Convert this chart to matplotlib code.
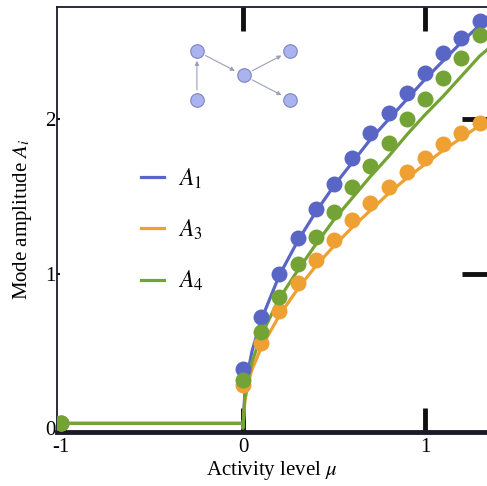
import matplotlib
matplotlib.use("Agg")
import matplotlib.pyplot as plt
from matplotlib.patches import FancyArrowPatch

plt.rcParams['font.family'] = ['Liberation Serif', 'DejaVu Serif']
plt.rcParams['mathtext.fontset'] = 'stix'

# simulation points (dots)
mu_dots = [-1.0, 0.0, 0.1, 0.2, 0.3, 0.4, 0.5, 0.6, 0.7, 0.8, 0.9, 1.0, 1.1, 1.2, 1.3]
a1_dots = [0.03, 0.38, 0.72, 1.00, 1.23, 1.42, 1.58, 1.75, 1.91, 2.04, 2.17, 2.30, 2.43, 2.53, 2.64]
a3_dots = [0.03, 0.28, 0.55, 0.76, 0.94, 1.09, 1.22, 1.35, 1.46, 1.56, 1.66, 1.75, 1.84, 1.91, 1.98]
a4_dots = [0.03, 0.31, 0.62, 0.85, 1.06, 1.24, 1.40, 1.56, 1.70, 1.85, 2.00, 2.13, 2.27, 2.40, 2.55]

# theory curves
mu_line = [-1.0, -0.001, 0.0, 0.01, 0.03, 0.05, 0.1, 0.2, 0.3, 0.4, 0.5, 0.6, 0.7,
           0.8, 0.9, 1.0, 1.1, 1.2, 1.3, 1.34]
a1_line = [0.03, 0.03, 0.0, 0.22, 0.38, 0.50, 0.70, 0.99, 1.21, 1.40, 1.57, 1.72, 1.87,
           2.00, 2.13, 2.26, 2.38, 2.50, 2.61, 2.66]
a3_line = [0.03, 0.03, 0.0, 0.17, 0.30, 0.38, 0.52, 0.73, 0.90, 1.05, 1.18, 1.30, 1.41,
           1.52, 1.62, 1.71, 1.80, 1.88, 1.96, 1.98]
a4_line = [0.03, 0.03, 0.0, 0.19, 0.33, 0.43, 0.60, 0.84, 1.02, 1.19, 1.35, 1.49, 1.63,
           1.76, 1.90, 2.03, 2.15, 2.28, 2.41, 2.45]

blue = '#5a66c6'
orange = '#eea033'
green = '#74a335'

fig = plt.figure(figsize=(4.87, 4.86), dpi=100)
ax = fig.add_axes([0.117, 0.111, 0.883, 0.875])

for dots, line, c, lab in [(a1_dots, a1_line, blue, '$A_{\\mathit{1}}$'),
                           (a3_dots, a3_line, orange, '$A_{\\mathit{3}}$'),
                           (a4_dots, a4_line, green, '$A_{\\mathit{4}}$')]:
    ax.plot(mu_line, line, color=c, lw=2.3, label=lab, zorder=3)
    ax.plot(mu_dots, dots, 'o', color=c, ms=11.5, mec='none', zorder=4)

ax.set_xlim(-1.022, 1.341)
ax.set_ylim(-0.026, 2.73)
ax.set_xticks([-1, 0, 1])
ax.set_yticks([0, 1, 2])
ax.set_xticklabels(['-1', '0', '1'])
ax.tick_params(axis='both', labelsize=15, color='#111111')
ax.tick_params(axis='x', direction='in', top=True, length=17, width=3.5, pad=4)
ax.tick_params(axis='y', direction='in', right=True, length=2, width=1.5, pad=1)
yt = ax.yaxis.get_major_ticks()
for t in yt:
    t.tick2line.set_markersize(18)
    t.tick2line.set_markeredgewidth(3.5)
yt[0].tick2line.set_visible(False)
xt = ax.xaxis.get_major_ticks()
xt[0].tick1line.set_visible(False)
xt[0].tick2line.set_visible(False)

ax.spines['bottom'].set_linewidth(3.5)
ax.spines['left'].set_linewidth(1.3)
ax.spines['top'].set_linewidth(1.3)
ax.spines['right'].set_visible(False)
for s in ax.spines.values():
    s.set_color('#1a1a2a')

ax.set_xlabel('Activity level $\\mathit{\\mu}$', fontsize=15, labelpad=2)
ax.set_ylabel('Mode amplitude $A_{\\mathit{i}}$', fontsize=15, labelpad=8)

leg = ax.legend(loc='upper left', bbox_to_anchor=(0.145, 0.675), frameon=False,
                fontsize=17, handlelength=1.0, labelspacing=1.15, handletextpad=0.6)

# network inset
node_x = [0.0, 0.0, 1.0, 2.0, 2.0]
node_y = [1.0, 0.0, 0.5, 1.0, 0.0]
edges = [(1, 0), (0, 2), (2, 3), (2, 4)]
iax = fig.add_axes([0.39, 0.775, 0.22, 0.14])
iax.set_xlim(-0.15, 2.15)
iax.set_ylim(-0.2, 1.2)
iax.axis('off')
for a, b in edges:
    iax.add_patch(FancyArrowPatch((node_x[a], node_y[a]), (node_x[b], node_y[b]),
                                  arrowstyle='-|>', mutation_scale=6, lw=0.8,
                                  color='#9aa0b8', shrinkA=7, shrinkB=7, zorder=1))
iax.scatter(node_x, node_y, s=95, color='#aab2f0', edgecolor='#7c84c0', lw=0.8, zorder=2)

fig.savefig('out.png', dpi=100)
